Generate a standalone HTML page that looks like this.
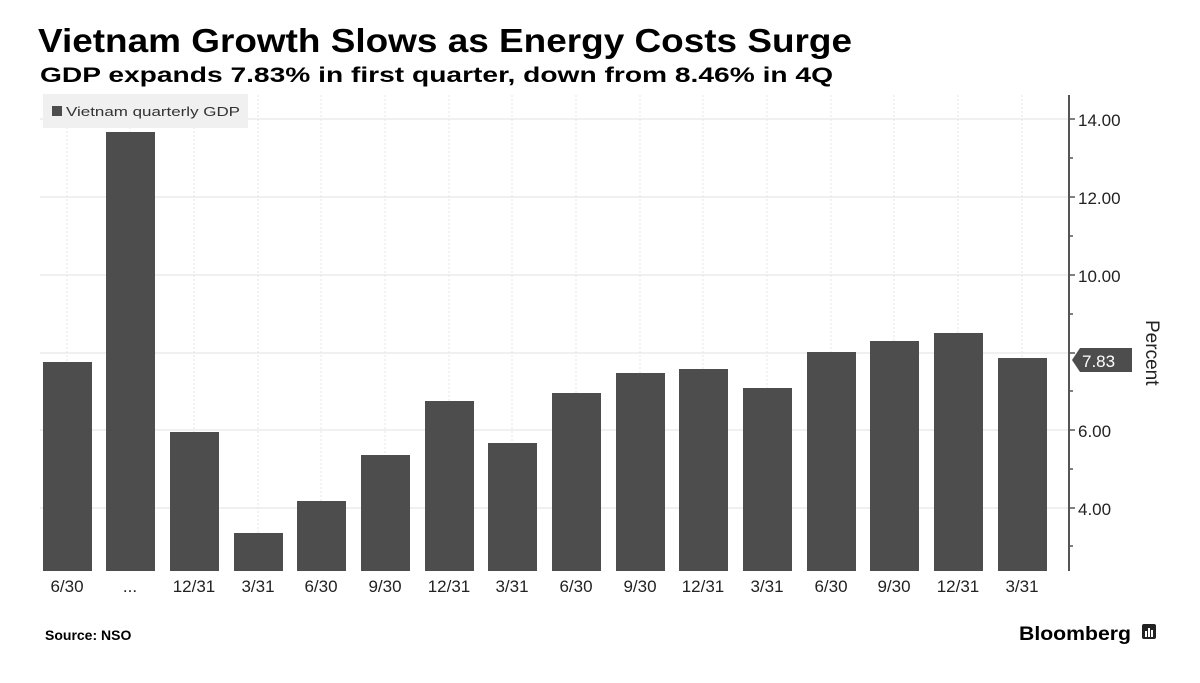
<!DOCTYPE html>
<html><head><meta charset="utf-8"><style>
body{margin:0;background:#fff;width:1200px;height:678px;overflow:hidden;font-family:"Liberation Sans",sans-serif}
</style></head><body>
<svg width="1200" height="678" xmlns="http://www.w3.org/2000/svg" font-family="Liberation Sans, sans-serif">
<text x="38" y="52" font-size="33" font-weight="bold" fill="#000" textLength="814" lengthAdjust="spacingAndGlyphs">Vietnam Growth Slows as Energy Costs Surge</text>
<text x="40" y="82" font-size="21" font-weight="bold" fill="#000" textLength="793" lengthAdjust="spacingAndGlyphs">GDP expands 7.83% in first quarter, down from 8.46% in 4Q</text>
<g stroke="#e2e2e2" stroke-width="1">
<line x1="40" y1="119" x2="1069" y2="119"/><line x1="40" y1="197" x2="1069" y2="197"/>
<line x1="40" y1="275" x2="1069" y2="275"/><line x1="40" y1="353" x2="1069" y2="353"/>
<line x1="40" y1="430" x2="1069" y2="430"/><line x1="40" y1="508" x2="1069" y2="508"/>
</g>
<g stroke="#e4e4e4" stroke-dasharray="2,2">
<line x1="67" y1="95" x2="67" y2="571"/><line x1="130" y1="95" x2="130" y2="571"/><line x1="194" y1="95" x2="194" y2="571"/><line x1="258" y1="95" x2="258" y2="571"/><line x1="321" y1="95" x2="321" y2="571"/><line x1="385" y1="95" x2="385" y2="571"/><line x1="449" y1="95" x2="449" y2="571"/><line x1="512" y1="95" x2="512" y2="571"/><line x1="576" y1="95" x2="576" y2="571"/><line x1="640" y1="95" x2="640" y2="571"/><line x1="703" y1="95" x2="703" y2="571"/><line x1="767" y1="95" x2="767" y2="571"/><line x1="831" y1="95" x2="831" y2="571"/><line x1="894" y1="95" x2="894" y2="571"/><line x1="958" y1="95" x2="958" y2="571"/><line x1="1022" y1="95" x2="1022" y2="571"/>
</g>
<rect x="43" y="94" width="205" height="34" fill="#f0f0f0"/>
<rect x="52" y="106" width="10" height="10" fill="#4d4d4d"/>
<text x="66" y="116" font-size="13" fill="#333" textLength="174" lengthAdjust="spacingAndGlyphs">Vietnam quarterly GDP</text>
<g fill="#4d4d4d">
<rect x="43" y="362" width="49" height="209"/>
<rect x="106" y="132" width="49" height="439"/>
<rect x="170" y="432" width="49" height="139"/>
<rect x="234" y="533" width="49" height="38"/>
<rect x="297" y="501" width="49" height="70"/>
<rect x="361" y="455" width="49" height="116"/>
<rect x="425" y="401" width="49" height="170"/>
<rect x="488" y="443" width="49" height="128"/>
<rect x="552" y="393" width="49" height="178"/>
<rect x="616" y="373" width="49" height="198"/>
<rect x="679" y="369" width="49" height="202"/>
<rect x="743" y="388" width="49" height="183"/>
<rect x="807" y="352" width="49" height="219"/>
<rect x="870" y="341" width="49" height="230"/>
<rect x="934" y="333" width="49" height="238"/>
<rect x="998" y="358" width="49" height="213"/>
</g>
<line x1="1069" y1="95" x2="1069" y2="571" stroke="#555" stroke-width="2"/>
<g stroke="#555" stroke-width="1.5">
<line x1="1069" y1="119" x2="1075" y2="119"/><line x1="1069" y1="158" x2="1073" y2="158"/>
<line x1="1069" y1="197" x2="1075" y2="197"/><line x1="1069" y1="236" x2="1073" y2="236"/>
<line x1="1069" y1="275" x2="1075" y2="275"/><line x1="1069" y1="314" x2="1073" y2="314"/>
<line x1="1069" y1="353" x2="1075" y2="353"/><line x1="1069" y1="391" x2="1073" y2="391"/>
<line x1="1069" y1="430" x2="1075" y2="430"/><line x1="1069" y1="469" x2="1073" y2="469"/>
<line x1="1069" y1="508" x2="1075" y2="508"/><line x1="1069" y1="546" x2="1073" y2="546"/>
</g>
<g font-size="17" fill="#222">
<text x="1078" y="126">14.00</text><text x="1078" y="204">12.00</text><text x="1078" y="282">10.00</text>
<text x="1078" y="437">6.00</text><text x="1078" y="515">4.00</text>
</g>
<path d="M1072 360 L1080 348 L1132 348 L1132 372 L1080 372 Z" fill="#4d4d4d"/>
<text x="1082" y="367" font-size="17" fill="#fff">7.83</text>
<text transform="translate(1146,320) rotate(90)" font-size="19" fill="#222">Percent</text>
<g font-size="17" fill="#222" text-anchor="middle">
<text x="67" y="592">6/30</text><text x="130" y="592">...</text><text x="194" y="592">12/31</text><text x="258" y="592">3/31</text><text x="321" y="592">6/30</text><text x="385" y="592">9/30</text><text x="449" y="592">12/31</text><text x="512" y="592">3/31</text><text x="576" y="592">6/30</text><text x="640" y="592">9/30</text><text x="703" y="592">12/31</text><text x="767" y="592">3/31</text><text x="831" y="592">6/30</text><text x="894" y="592">9/30</text><text x="958" y="592">12/31</text><text x="1022" y="592">3/31</text>
</g>
<text x="45" y="640" font-size="14" font-weight="bold" fill="#000">Source: NSO</text>
<text x="1019" y="640" font-size="19" font-weight="bold" fill="#000" textLength="112" lengthAdjust="spacingAndGlyphs">Bloomberg</text>
<rect x="1142" y="624" width="14" height="15" rx="2" fill="#222"/>
<g fill="#fff"><rect x="1145" y="631" width="2" height="6"/><rect x="1148" y="628" width="2" height="9"/><rect x="1151" y="630" width="2" height="7"/></g>
</svg>
</body></html>
